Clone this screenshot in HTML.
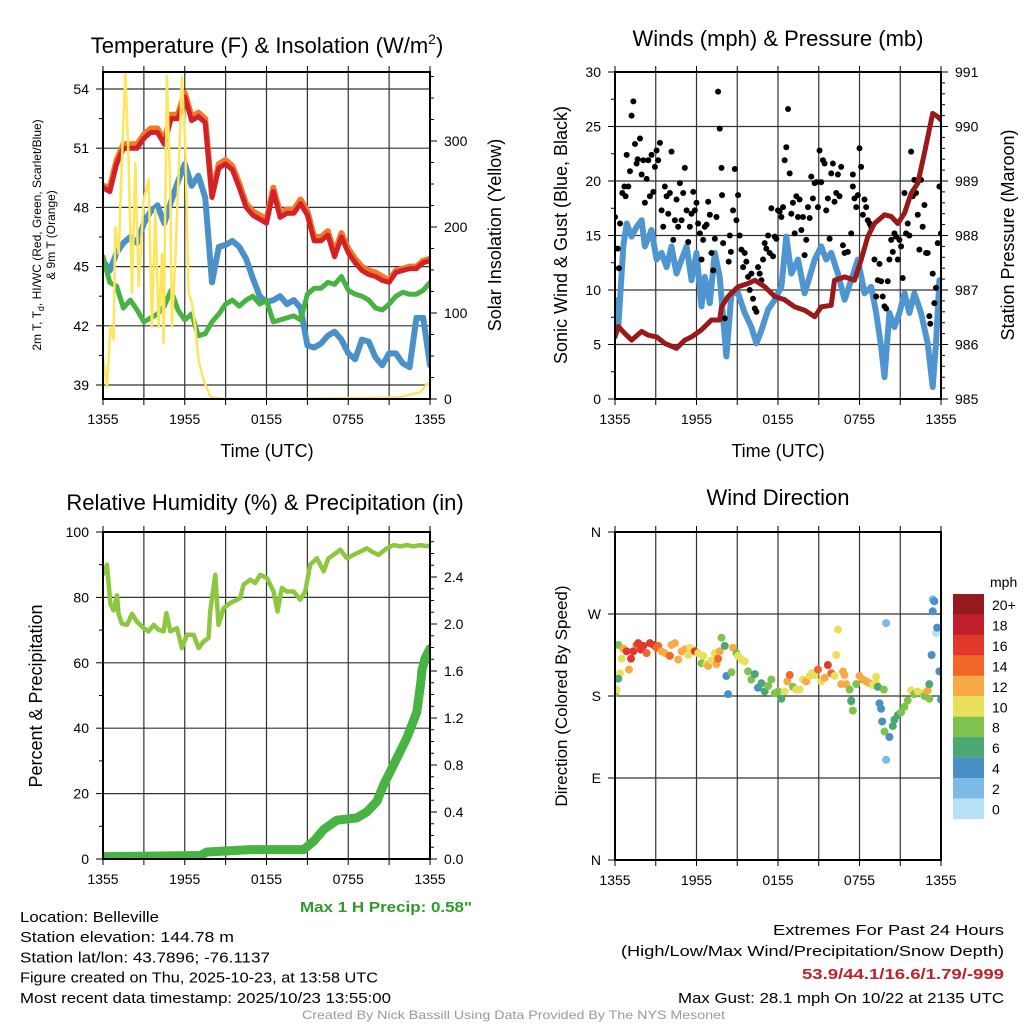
<!DOCTYPE html>
<html><head><meta charset="utf-8"><style>
html,body{margin:0;padding:0;background:#fff;}
svg{display:block;font-family:"Liberation Sans",sans-serif;}
</style></head><body>
<svg id="c" width="1024" height="1024" viewBox="0 0 1024 1024"></svg>
<script>
// ---------- DATA ----------
const xTickLabels = ["1355","1955","0155","0755","1355"];
// Panel 1: temperature (half-hour steps over 24 h)
const tempHours = Array.from({length:49},(_,i)=>i*0.5);
const temp2m = [49.0,48.8,50.2,51.0,51.0,51.0,51.5,51.8,51.8,51.2,52.5,52.5,53.6,52.4,52.6,52.3,48.5,50.0,50.2,49.9,49.0,48.0,47.6,47.4,47.2,48.8,47.5,47.7,47.7,48.2,47.6,46.3,46.3,46.6,45.5,46.5,45.7,45.2,44.8,44.6,44.5,44.3,44.2,44.7,44.8,44.9,44.9,45.2,45.3];
const temp9m = [49.1,49.0,50.4,51.2,51.2,51.2,51.7,52.0,52.0,51.4,52.7,52.7,53.8,52.6,52.8,52.5,48.6,50.2,50.4,50.1,49.2,48.2,47.8,47.6,47.4,49.0,47.7,47.9,47.9,48.4,47.8,46.5,46.5,46.8,45.7,46.7,45.9,45.4,45.0,44.8,44.7,44.5,44.3,44.8,44.9,45.0,45.0,45.3,45.4];
const dewpoint = [45.3,44.8,45.7,46.2,46.5,46.2,47.2,47.8,48.1,47.2,48.3,49.3,50.2,49.1,49.6,48.5,44.2,46.0,46.1,46.3,46.0,45.4,44.4,43.5,43.2,43.3,43.5,43.1,43.3,42.9,41.0,40.9,41.1,41.5,41.7,41.3,40.6,40.3,41.3,41.2,40.4,40.0,40.6,40.6,40.1,39.9,42.4,42.4,40.0];
const heatIndex = [45.5,44.2,44.0,42.9,43.3,42.8,42.2,42.4,42.6,43.0,43.8,42.8,42.3,42.6,41.5,41.6,42.2,42.6,43.1,43.3,43.0,43.3,43.5,43.1,43.3,42.2,42.3,42.4,42.5,42.3,43.6,43.9,43.9,44.2,44.1,44.5,43.8,43.6,43.5,43.3,42.9,42.8,43.1,43.5,43.7,43.6,43.6,43.8,44.2];
const solarHours = [0,0.29,0.54,0.78,0.9,1.15,1.39,1.64,1.88,2.13,2.37,2.62,2.98,3.35,3.59,3.84,4.08,4.33,4.45,4.69,4.94,5.06,5.31,5.55,5.79,6.04,6.28,6.53,6.77,7.02,7.38,7.87,8.6,14.5,21.8,23.3,23.8,24];
const solar = [49,14,84,69,200,169,278,380,278,123,274,131,231,255,84,220,84,169,65,375,239,84,162,262,375,293,123,111,84,45,22,3,0,0,2,8,18,15];
// Panel 2: winds & pressure
const presHours = [0,0.24,0.73,1.22,1.96,2.45,3.06,3.67,4.53,5.14,5.63,6.37,7.1,7.71,7.84,8.33,9.06,9.8,10.29,11.02,11.76,12.49,13.23,13.96,14.7,15.18,15.92,16.16,16.9,17.63,18.12,18.61,19.1,19.84,20.33,20.82,21.31,21.8,22.29,22.78,23.39,23.76,24];
const pressure = [986.14,986.33,986.2,986.08,986.24,986.17,986.14,986.02,985.93,986.08,986.14,986.27,986.45,986.45,986.69,986.88,987.06,987.12,987.18,987.06,986.88,986.82,986.69,986.63,986.51,986.69,986.72,987.18,987.24,987.18,987.55,987.98,988.22,988.38,988.35,988.22,988.41,988.77,988.96,989.51,990.24,990.18,990.12];
const windHours = [0,0.24,0.61,0.86,1.22,1.59,1.96,2.2,2.69,3.06,3.43,3.8,4.16,4.53,4.9,5.27,5.63,6.0,6.37,6.61,6.98,7.35,7.71,8.2,8.57,9.06,9.55,10.04,10.41,10.78,11.27,11.76,12.25,12.61,12.98,13.47,13.96,14.33,14.7,15.18,15.55,15.92,16.41,16.9,17.39,17.88,18.37,18.86,19.23,19.59,19.84,20.2,20.57,20.94,21.31,21.67,22.04,22.53,23.02,23.39,23.63,23.88];
const wind = [9.1,6.6,14.0,16.1,14.9,15.8,16.4,14.0,15.5,12.8,13.4,12.1,14.0,11.5,12.8,14.0,10.9,13.4,8.5,11.2,8.8,13.4,11.2,3.9,9.7,9.7,7.9,6.6,5.1,6.3,8.2,9.1,10.3,14.9,11.5,12.8,9.7,11.2,12.8,14.0,12.8,13.4,11.5,9.1,10.9,12.8,9.7,10.3,7.9,4.8,2.0,7.9,6.6,7.9,9.7,7.9,9.7,7.9,5.1,1.1,5.1,10.9];
const gustHours = [0,.2,.29,.37,.54,.69,.78,.86,.98,1.1,1.22,1.35,1.47,1.59,1.67,1.84,1.96,2.08,2.2,2.33,2.45,2.57,2.69,2.82,2.94,3.06,3.18,3.31,3.43,3.55,3.67,3.8,3.92,4.04,4.16,4.29,4.41,4.53,4.65,4.78,4.9,5.02,5.14,5.27,5.39,5.51,5.63,5.76,5.88,6.0,6.12,6.25,6.37,6.49,6.61,6.74,6.86,6.98,7.1,7.23,7.35,7.47,7.59,7.71,7.84,7.88,7.96,8.08,8.37,8.45,8.53,8.82,8.69,8.94,9.06,9.18,9.31,9.43,9.55,9.67,9.8,9.92,10.04,10.16,10.29,10.41,10.53,10.65,10.78,10.9,11.02,11.14,11.27,11.39,11.51,11.63,11.76,11.88,12.0,12.12,12.25,12.37,12.49,12.61,12.74,12.86,12.98,13.1,13.23,13.35,13.47,13.59,13.72,13.84,13.96,14.08,14.21,14.33,14.45,14.57,14.7,14.82,14.94,15.06,15.18,15.31,15.43,15.55,15.67,15.8,15.92,16.04,16.16,16.29,16.41,16.53,16.65,16.78,16.9,17.14,17.39,17.51,17.51,17.63,17.76,17.88,18.0,18.12,18.25,18.37,18.49,18.61,18.74,18.86,19.1,19.23,19.35,19.47,19.59,19.71,19.84,19.96,20.08,20.2,20.33,20.45,20.57,20.69,20.82,20.94,21.06,21.18,21.31,21.43,21.55,21.67,21.8,21.92,22.04,22.16,22.29,22.41,22.53,22.65,22.78,22.9,23.02,23.14,23.21,23.39,23.51,23.63,23.76,23.88,24];
const gust = [16.7,13.8,12.0,16.1,18.9,19.5,18.6,22.4,19.5,20.9,26.0,27.3,23.4,21.6,22.0,23.9,20.6,21.9,18.0,20.2,21.9,18.6,22.4,19.0,21.3,22.8,21.9,23.5,17.3,15.8,19.5,18.6,17.0,18.9,22.7,14.6,16.4,18.3,15.8,19.8,16.4,18.9,21.2,17.3,14.4,15.8,17.0,19.0,17.3,18.0,16.1,15.2,12.8,14.6,15.8,16.0,18.1,16.9,13.4,11.8,14.7,16.7,28.2,24.8,21.2,18.7,14.3,7.4,12.6,15.0,13.5,21.1,17.3,16.4,18.7,15.0,13.7,12.1,13.4,12.6,11.2,10.0,11.5,9.2,8.3,8.0,12.1,11.5,10.9,12.8,14.3,13.8,15.0,13.4,17.5,13.1,14.9,14.7,17.3,17.2,16.7,17.6,21.9,23.1,26.6,20.7,17.0,18.0,15.2,18.6,16.7,18.3,15.5,16.7,13.2,14.6,17.6,16.6,20.4,18.4,19.8,19.9,17.6,22.8,19.9,21.9,21.6,17.3,18.4,14.7,20.7,21.6,18.1,18.9,20.6,18.6,21.3,14.1,13.4,13.5,15.2,19.5,20.6,18.4,17.6,18.7,23.0,21.3,16.9,18.3,17.6,16.4,16.1,15.8,12.8,9.4,10.9,12.4,10.8,9.4,8.5,8.3,10.8,12.8,14.6,13.5,15.2,14.9,12.8,14.6,14.0,11.1,18.9,15.2,16.1,15.0,22.7,18.6,20.1,18.9,16.9,13.7,20.1,15.8,17.8,13.4,13.4,7.6,6.9,11.5,8.8,10.2,14.3,19.5,15.2];
// Panel 3: RH & precip
const rhHours = [0,.29,.54,.78,1.03,1.14,1.39,1.76,2.13,2.49,2.98,3.35,3.72,4.08,4.45,4.65,4.94,5.43,5.79,6.16,6.65,7.02,7.38,7.75,7.87,8.24,8.48,8.85,9.34,10.07,10.32,10.81,11.17,11.54,12.03,12.52,12.81,13.13,13.5,13.99,14.47,14.84,15.21,15.7,16.19,16.55,16.92,17.41,17.9,18.39,18.88,19.36,19.73,20.22,20.83,21.32,21.81,22.3,22.79,23.28,24];
const rh = [87,90,78,76,80.6,75,72,71.6,75,72.6,70.6,69.6,71.6,70.1,69.6,75.2,69.6,70.6,64.5,68.6,68.6,64.5,66.5,67.6,75.7,86.9,71.6,76.7,78.3,79.8,83.9,85.4,84.4,86.9,85.9,81.8,75.7,82.9,81.8,81.8,79.3,81.8,90,92,88,92,93,94.6,92,93,94,95,94,93,95,96,95.6,96,95.6,96,95.6];
const precipHours = [0,7.14,7.63,10.81,14.72,15.45,16.19,17.17,18.63,19.36,20.1,20.59,21.32,22.3,23.03,23.33,23.4,23.64,24];
const precip = [0.02,0.03,0.06,0.08,0.08,0.15,0.25,0.33,0.35,0.40,0.49,0.63,0.80,1.03,1.25,1.51,1.60,1.71,1.79];
// Panel 4: wind direction
const dirHours = [0,.12,.24,.37,.24,.49,.61,.86,1.03,1.18,1.35,1.59,1.71,1.91,2.08,2.33,2.57,2.82,3.06,3.18,3.43,3.67,4.04,4.16,4.41,4.65,4.9,5.14,5.39,5.51,5.76,5.88,6.12,6.37,6.49,6.74,6.86,7.1,7.35,7.47,7.59,7.71,7.84,8.08,8.2,8.33,8.57,8.69,8.94,9.06,9.31,9.55,9.8,10.04,10.29,10.53,10.78,11.02,11.27,11.51,11.76,12.0,12.25,12.49,12.69,12.86,13.1,13.35,13.59,13.84,14.08,14.33,14.5,14.7,14.94,15.18,15.43,15.67,15.92,16.16,16.29,16.41,16.65,16.78,16.9,17.02,17.27,17.39,17.39,17.51,17.76,18.0,18.25,18.49,18.74,18.98,19.23,19.23,19.35,19.47,19.59,19.67,19.84,19.96,19.96,20.2,20.45,20.57,20.82,21.06,21.31,21.55,21.8,22.04,22.29,22.65,22.78,23.02,23.14,23.14,23.31,23.39,23.39,23.51,23.63,23.71,23.88,24,19.79];
const dirDeg = [183,187,236,205,199,221,232,229,209,221,229,236,238,231,235,227,238,236,233,235,229,227,224,236,238,220,229,231,225,233,231,229,227,216,224,215,213,219,227,215,221,229,244,235,202,182,206,233,227,224,220,218,207,198,204,189,194,185,191,198,183,185,177,185,196,203,190,187,187,198,196,202,205,203,209,196,200,214,205,202,225,253,193,207,203,193,187,174,175,164,193,202,198,196,194,192,194,201,190,172,166,152,141,260,110,135,147,154,159,162,168,175,186,182,185,183,180,186,177,193,225,273,286,284,249,255,207,176,187,192,7];
const dirSpeed = [8,10,8,10,6,10,12,16,12,16,16,14,16,16,16,14,16,16,14,14,12,12,14,12,12,12,12,12,10,10,10,16,10,8,10,10,12,10,10,12,14,12,8,6,4,4,8,12,8,10,10,10,8,8,6,4,6,6,8,8,8,8,6,10,12,14,8,10,10,10,12,10,10,10,14,10,12,16,14,10,10,10,12,12,12,12,8,8,6,8,8,12,12,12,12,10,10,10,6,4,4,4,8,2,2,4,6,6,6,8,8,8,10,8,10,10,8,12,8,6,4,4,2,4,0,4,4,4,8,10,2];
const cbLabels = ["20+","18","16","14","12","10","8","6","4","2","0"];
const cbColors = ["#961b1e","#c1202a","#e1382b","#f26729","#f9a945","#e8e05a","#7fc24f","#4ba873","#4a90c8","#7db9e5","#b6e1f7"];

// ---------- DRAW ----------
const NS="http://www.w3.org/2000/svg";
const svg=document.getElementById('c');
function el(tag,attrs,parent,text){const e=document.createElementNS(NS,tag);for(const k in attrs)e.setAttribute(k,attrs[k]);if(text!==undefined)e.textContent=text;(parent||svg).appendChild(e);return e;}
function group(name){const g=el('g',{},svg);return g;}
function mkPanel(x0,x1,y0,y1){return {x0,x1,y0,y1,x:h=>x0+h/24*(x1-x0)};}
function lin(d0,d1,p0,p1){return v=>p0+(v-d0)/(d1-d0)*(p1-p0);}
function drawFrame(P,g,clipId){
  for(let i=1;i<8;i++){const xx=P.x(i*3);el('line',{x1:xx,x2:xx,y1:P.y0,y2:P.y1,stroke:'#333','stroke-width':1.2},g);}
  for(let i=0;i<=8;i++){const xx=P.x(i*3);el('line',{x1:xx,x2:xx,y1:P.y0-6,y2:P.y0,stroke:'#000','stroke-width':1},g);el('line',{x1:xx,x2:xx,y1:P.y1,y2:P.y1+6,stroke:'#000','stroke-width':1},g);}
  xTickLabels.forEach((t,i)=>{const tx=el('text',{x:P.x(i*6),y:P.y1+25,'font-size':14,'text-anchor':'middle'},g,t);});
  const cp=el('clipPath',{id:clipId},g);el('rect',{x:P.x0,y:P.y0,width:P.x1-P.x0,height:P.y1-P.y0},cp);
}
function hgrid(P,g,ys){ys.forEach(y=>el('line',{x1:P.x0,x2:P.x1,y1:y,y2:y,stroke:'#333','stroke-width':1.2},g));}
function box(P,g){const b=el('rect',{x:P.x0,y:P.y0,width:P.x1-P.x0,height:P.y1-P.y0,fill:'none',stroke:'#000','stroke-width':2},g);}
function leftTicks(P,g,vals,yf,minor,fmt){
  vals.forEach(v=>{const y=yf(v);el('line',{x1:P.x0-7,x2:P.x0,y1:y,y2:y,stroke:'#000'},g);const t=el('text',{x:P.x0-14,y:y+5,'font-size':14,'text-anchor':'end'},g,fmt?fmt(v):v);});
  minor.forEach(v=>{const y=yf(v);el('line',{x1:P.x0-4,x2:P.x0,y1:y,y2:y,stroke:'#000'},g);});
}
function rightTicks(P,g,vals,yf,minor,fmt){
  vals.forEach(v=>{const y=yf(v);el('line',{x1:P.x1,x2:P.x1+7,y1:y,y2:y,stroke:'#000'},g);const t=el('text',{x:P.x1+14,y:y+5,'font-size':14},g,fmt?fmt(v):v);});
  minor.forEach(v=>{const y=yf(v);el('line',{x1:P.x1,x2:P.x1+4,y1:y,y2:y,stroke:'#000'},g);});
}
function poly(P,hs,vs,yf,attrs,g,clip,name){
  const pts=hs.map((h,i)=>P.x(h).toFixed(1)+','+yf(vs[i]).toFixed(1)).join(' ');
  const a=Object.assign({points:pts,fill:'none','stroke-linejoin':'round','stroke-linecap':'round','clip-path':'url(#'+clip+')'},attrs);
  const p=el('polyline',a,g);return p;
}
function title(x,y,txt,g,name){const t=el('text',{x,y,'font-size':22,'text-anchor':'middle'},g,txt);return t;}
function vtitle(x,y,txt,g,size,name){const t=el('text',{x,y,'font-size':size,'text-anchor':'middle',transform:'rotate(-90 '+x+' '+y+')'},g,txt);return t;}
function rng(a,b,s){const r=[];for(let v=a;v<=b+1e-9;v+=s)r.push(+v.toFixed(4));return r;}

// Panel 1
{const g=group('temperature-panel');
const P=mkPanel(103,430,72,399);
const yL=lin(39,54,385,89), yR=lin(0,100,399,313);
drawFrame(P,g,'cp1');hgrid(P,g,[39,42,45,48,51,54].map(yL));
leftTicks(P,g,[39,42,45,48,51,54],yL,rng(40.5,52.5,3));
rightTicks(P,g,[0,100,200,300],yR,rng(25,375,25).filter(v=>v%100));
poly(P,tempHours,temp9m,yL,{stroke:'#f07a2a','stroke-width':6},g,'cp1','orange-9m-temp-line');
poly(P,tempHours,temp2m,yL,{stroke:'#d42027','stroke-width':5},g,'cp1','red-2m-temp-line');
poly(P,tempHours,dewpoint,yL,{stroke:'#4b91c9','stroke-width':6},g,'cp1','blue-dewpoint-line');
poly(P,tempHours,heatIndex,yL,{stroke:'#46b342','stroke-width':5},g,'cp1','green-hiwc-line');
poly(P,solarHours,solar,yR,{stroke:'#fde55c','stroke-width':2.5},g,'cp1','yellow-solar-line');
box(P,g);
const t=el('text',{x:267,y:53,'font-size':22,'text-anchor':'middle'},g);
el('tspan',{},t,'Temperature (F) & Insolation (W/m');el('tspan',{dy:-9,'font-size':14},t,'2');el('tspan',{dy:9},t,')');
const lt=el('text',{x:41,y:235,'font-size':12,'text-anchor':'middle',transform:'rotate(-90 41 235)'},g);
el('tspan',{},lt,'2m T, T');el('tspan',{dy:3,'font-size':9},lt,'d');el('tspan',{dy:-3},lt,', HI/WC (Red, Green, Scarlet/Blue)');
vtitle(55,235,'& 9m T (Orange)',g,12,'temperature-y-axis-title-line2');
vtitle(501,235,'Solar Insolation (Yellow)',g,18,'solar-y-axis-title');
const xt=el('text',{x:267,y:457,'font-size':18,'text-anchor':'middle'},g,'Time (UTC)');
}
// Panel 2
{const g=group('winds-panel');
const P=mkPanel(615,941,72,399);
const yL=lin(0,30,399,72), yR=lin(985,991,399,72);
drawFrame(P,g,'cp2');hgrid(P,g,[5,10,15,20,25].map(yL));
leftTicks(P,g,[0,5,10,15,20,25,30],yL,rng(2.5,27.5,5));
rightTicks(P,g,[985,986,987,988,989,990,991],yR,rng(985.2,990.8,0.2).filter(v=>Math.abs(v-Math.round(v))>0.05));
poly(P,windHours,wind,yL,{stroke:'#4f96d0','stroke-width':6},g,'cp2','blue-sonic-wind-line');
gustHours.forEach((h,i)=>{const c=el('circle',{cx:P.x(h),cy:yL(gust[i]),r:3,fill:'#000','clip-path':'url(#cp2)'},g);});
poly(P,presHours,pressure,yR,{stroke:'#9a1a1c','stroke-width':5},g,'cp2','maroon-pressure-line');
box(P,g);
title(778,46,'Winds (mph) & Pressure (mb)',g,'winds-title');
vtitle(567,235,'Sonic Wind & Gust (Blue, Black)',g,18,'wind-y-axis-title');
vtitle(1014,235,'Station Pressure (Maroon)',g,18,'pressure-y-axis-title');
const xt=el('text',{x:778,y:457,'font-size':18,'text-anchor':'middle'},g,'Time (UTC)');
}
// Panel 3
{const g=group('humidity-panel');
const P=mkPanel(103,430,532,859);
const yL=lin(0,100,859,532), yR=lin(0,2.4,859,577);
drawFrame(P,g,'cp3');hgrid(P,g,[20,40,60,80].map(yL));
leftTicks(P,g,[0,20,40,60,80,100],yL,rng(10,90,20));
rightTicks(P,g,[0,0.4,0.8,1.2,1.6,2.0,2.4],yR,rng(0.1,2.7,0.1).filter(v=>Math.abs(v*10%4)>0.01&&Math.abs(v*10%4-4)>0.01),v=>v.toFixed(1));
poly(P,rhHours,rh,yL,{stroke:'#8dc63f','stroke-width':4.5},g,'cp3','rh-line');
poly(P,precipHours,precip,yR,{stroke:'#46b342','stroke-width':9},g,'cp3','precip-line');
box(P,g);
title(265,510,'Relative Humidity (%) & Precipitation (in)',g,'humidity-title');
vtitle(42,696,'Percent & Precipitation',g,18,'rh-y-axis-title');
const mp=el('text',{x:472,y:912,'font-size':15,'font-weight':'bold','text-anchor':'end',fill:'#2e9a2a',textLength:172,lengthAdjust:'spacingAndGlyphs'},g,'Max 1 H Precip: 0.58"');
}
// Panel 4
{const g=group('wind-direction-panel');
const P=mkPanel(615,941,532,860);
const yL=lin(0,360,860,532);
drawFrame(P,g,'cp4');hgrid(P,g,[90,180,270].map(yL));
leftTicks(P,g,[0,90,180,270,360],yL,[],v=>({0:'N',90:'E',180:'S',270:'W',360:'N'})[v]);
dirHours.forEach((h,i)=>{const idx=10-Math.min(10,Math.round(dirSpeed[i]/2));const c=el('circle',{cx:P.x(h),cy:yL(dirDeg[i]),r:4,fill:cbColors[idx],'clip-path':'url(#cp4)'},g);});
box(P,g);
title(778,505,'Wind Direction',g,'wind-direction-title');
vtitle(567,696,'Direction (Colored By Speed)',g,17,'direction-y-axis-title');
const cb=group('speed-colorbar');
const u=el('text',{x:990,y:587,'font-size':14},cb,'mph');
cbColors.forEach((c,i)=>{const r=el('rect',{x:953,y:594+i*20.45,width:31,height:20.6,fill:c},cb);
 const t=el('text',{x:992,y:594+i*20.45+16,'font-size':14},cb,cbLabels[i]);});
}
// Footer text
{const g=group('footer');
const left=[["Location: Belleville",139],["Station elevation: 144.78 m",214],["Station lat/lon: 43.7896; -76.1137",250],["Figure created on Thu, 2025-10-23, at 13:58 UTC",358],["Most recent data timestamp: 2025/10/23 13:55:00",371]];
left.forEach((l,i)=>{const t=el('text',{x:20,y:922+i*20.2,'font-size':15,textLength:l[1],lengthAdjust:'spacingAndGlyphs'},g,l[0]);});
const right=[["Extremes For Past 24 Hours",231,'#000','normal',935],["(High/Low/Max Wind/Precipitation/Snow Depth)",383,'#000','normal',956],["53.9/44.1/16.6/1.79/-999",202,'#c0202a','bold',979],["Max Gust: 28.1 mph On 10/22 at 2135 UTC",326,'#000','normal',1003]];
right.forEach(r=>{const t=el('text',{x:1004-r[1],y:r[4],'font-size':15,fill:r[2],'font-weight':r[3],textLength:r[1],lengthAdjust:'spacingAndGlyphs'},g,r[0]);});
const cr=el('text',{x:302,y:1019,'font-size':12,fill:'#999',textLength:423,lengthAdjust:'spacingAndGlyphs'},g,'Created By Nick Bassill Using Data Provided By The NYS Mesonet');
}
</script>
</body></html>
